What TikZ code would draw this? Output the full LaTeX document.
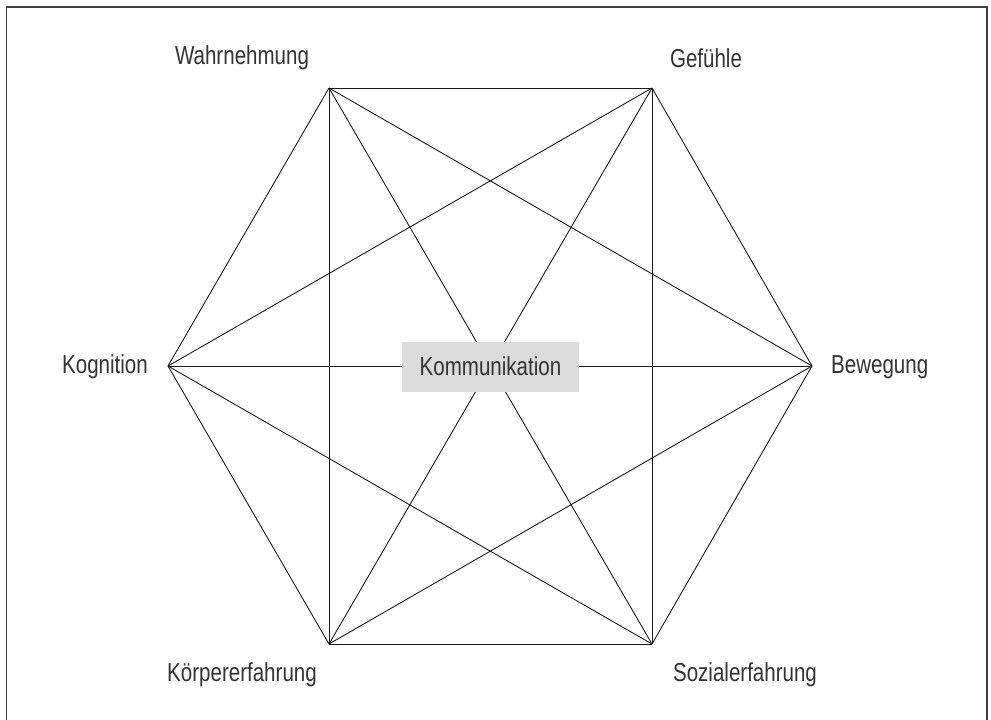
\documentclass[tikz,border=0pt]{standalone}
\usepackage{fontspec}
\setmainfont[FakeStretch=0.79]{Liberation Sans}
\begin{document}
\begin{tikzpicture}[x=1pt,y=-1pt,
  lbl/.style={font=\fontsize{26}{29}\selectfont, text=black!80, inner sep=0pt},
  edge/.style={draw=black!90, line width=0.9pt},
  centerbox/.style={fill=black!14, minimum width=177pt, minimum height=50pt, inner sep=0pt, font=\fontsize{26}{29}\selectfont, text=black!80}]
\useasboundingbox (0,0) rectangle (991,720);
\draw[black!75, line width=1.6pt] (6.5,730) -- (6.5,7) -- (987,7) -- (987,730);
\coordinate (W) at (329,88);
\coordinate (G) at (652,88);
\coordinate (B) at (812,366);
\coordinate (S) at (652,644);
\coordinate (K) at (329,644);
\coordinate (C) at (168,366);
\foreach \a/\b in {W/G,W/B,W/S,W/K,W/C,G/B,G/S,G/K,G/C,B/S,B/K,B/C,S/K,S/C,K/C}
  \draw[edge] (\a) -- (\b);
\node[centerbox] (komm) at (490.5,366.5) {Kommunikation};
\node[lbl] (lW) at (242,58) {Wahrnehmung};
\node[lbl] (lG) at (706,58) {Gefühle};
\node[lbl, anchor=east] (lC) at (148,367) {Kognition};
\node[lbl, anchor=west] (lB) at (831,367) {Bewegung};
\node[lbl] (lK) at (242,675) {Körpererfahrung};
\node[lbl] (lS) at (745,675) {Sozialerfahrung};
\end{tikzpicture}
\end{document}
